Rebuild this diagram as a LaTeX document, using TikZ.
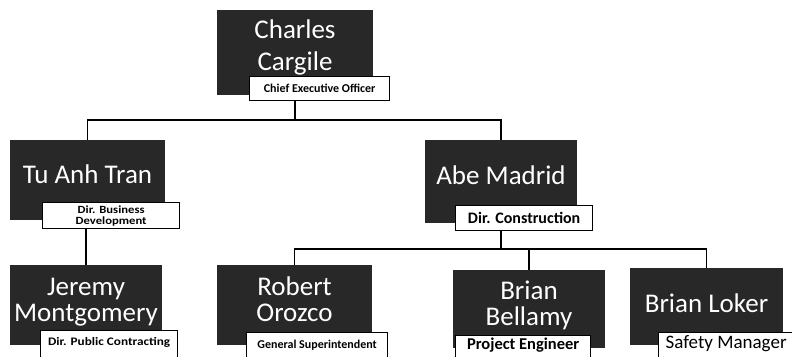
\documentclass[tikz,border=0pt]{standalone}
\usepackage{fontspec}
\setmainfont{Carlito}
\newfontfamily\stretchedfont[FakeStretch=1.15]{Carlito}
\usetikzlibrary{positioning}
\definecolor{boxgray}{HTML}{282828}
\tikzset{
  namebox/.style={fill=boxgray, text=white, inner sep=0pt, align=center, font=\fontsize{27}{32}\selectfont},
  tightname/.style={namebox, font=\fontsize{27}{26}\selectfont},
  titlebox/.style={draw=black, fill=white, line width=1.3pt, inner xsep=3pt, inner ysep=3pt, anchor=north west},
  cutbox/.style={titlebox, text height=#1, text depth=22pt},
  link/.style={draw=black, line width=1.2pt}
}
\begin{document}
\begin{tikzpicture}[x=1pt, y=-1pt]
\path[use as bounding box, clip] (0,0) rectangle (792,356);

% people
\node[namebox, minimum width=156, minimum height=85, text depth=14.5pt] (ceo) at (295,52.5) {Charles\\Cargile};
\node[namebox, minimum width=155, minimum height=80, text depth=12pt] (tuanh) at (87.5,180) {Tu Anh Tran};
\node[namebox, minimum width=152, minimum height=83, text depth=12pt] (abe) at (501,181.5) {Abe Madrid};
\node[tightname, minimum width=152, minimum height=80, text depth=9.4pt] (jeremy) at (86,305) {Jeremy\\Montgomery};
\node[tightname, minimum width=155, minimum height=80, text depth=11.4pt] (robert) at (294.5,305) {Robert\\Orozco};
\node[tightname, minimum width=152, minimum height=78, text depth=11.4pt] (bellamy) at (529,309) {Brian\\Bellamy};
\node[namebox, minimum width=153, minimum height=77, text depth=6pt] (loker) at (706.5,306.5) {Brian Loker};

% titles
\node[titlebox, minimum width=140, minimum height=24, font=\fontsize{12}{14}\selectfont\bfseries] (ceotitle) at (249,76) {Chief Executive Officer};
\node[titlebox, minimum width=137, minimum height=26, align=center, inner ysep=1pt, font=\stretchedfont\fontsize{11}{11}\selectfont\bfseries] (tutitle) at (42,202) {Dir. Business\\Development};
\node[titlebox, minimum width=137, minimum height=25, font=\fontsize{16}{18}\selectfont\bfseries] (abetitle) at (455,205) {Dir. Construction};
\node[cutbox=12pt, minimum width=137, font=\stretchedfont\fontsize{11.5}{13}\selectfont\bfseries] (jeremytitle) at (40,330) {Dir. Public Contracting};
\node[cutbox=13pt, minimum width=141, font=\fontsize{12}{14}\selectfont\bfseries] (roberttitle) at (246,332) {General Superintendent};
\node[cutbox=11pt, minimum width=135, font=\fontsize{16.5}{18}\selectfont\bfseries] (bellamytitle) at (455,335) {Project Engineer};
\node[cutbox=13pt, inner xsep=7pt, font=\fontsize{19}{21}\selectfont] (lokertitle) at (658,332) {Safety Manager};

% lines
\coordinate (topbus) at (295,120);
\coordinate (lowbus) at (501,249);
\draw[link] (topbus |- ceotitle.south) -- (topbus);
\draw[link] (tuanh.north) |- (topbus) -| (abe.north);
\draw[link] (tutitle.south -| jeremy.north) -- (jeremy.north);
\draw[link] (lowbus |- abetitle.south) -- (lowbus);
\draw[link] (robert.north) |- (lowbus) -| (loker.north);
\draw[link] (bellamy.north) -- (bellamy.north |- lowbus);
\end{tikzpicture}
\end{document}
